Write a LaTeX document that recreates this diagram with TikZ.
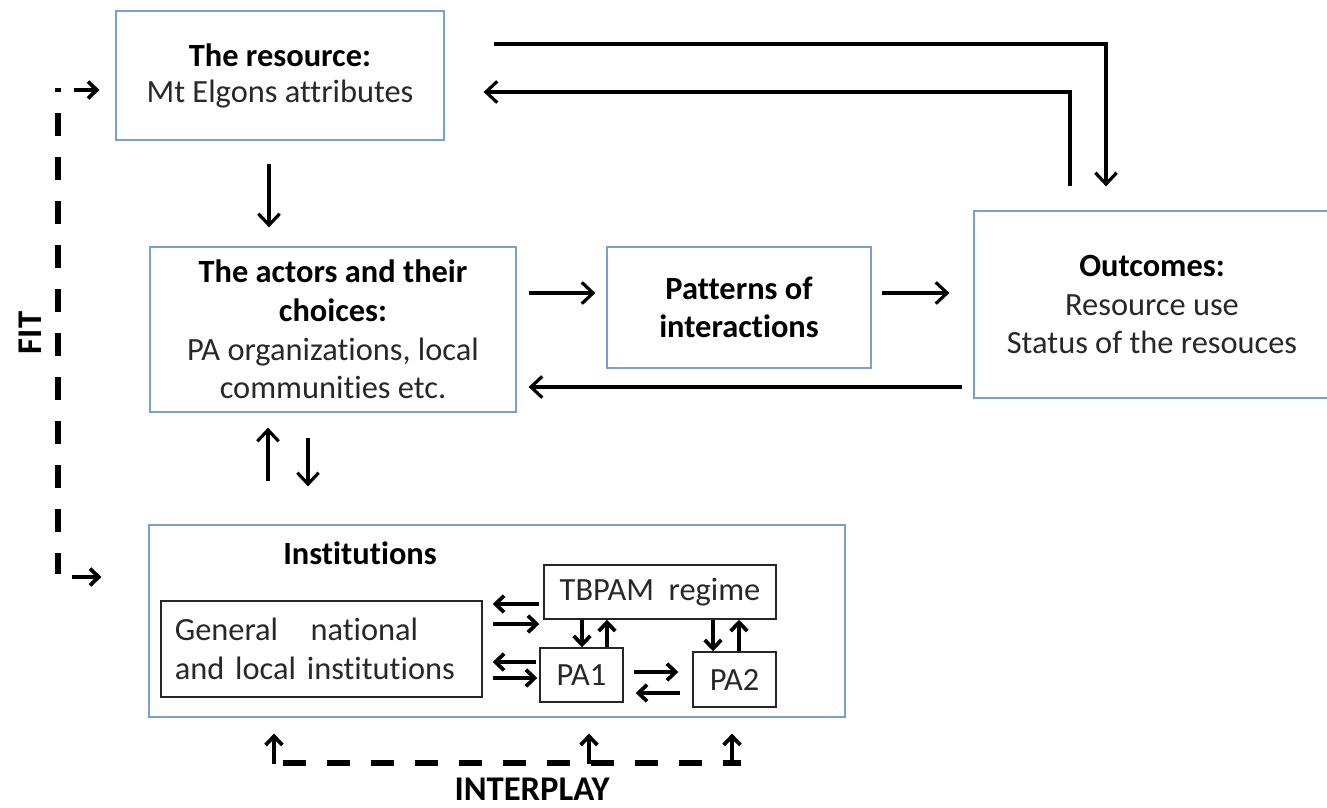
\documentclass[tikz,border=0pt]{standalone}
\usepackage{fontspec}
\setmainfont{Carlito}[RawFeature={-liga;-clig;-calt;-rlig;-dlig}]
\usetikzlibrary{arrows.meta,calc}
\definecolor{boxblue}{RGB}{120,160,215}
\definecolor{txt}{RGB}{40,40,40}
\begin{document}
\begin{tikzpicture}[x=0.75pt,y=-0.75pt,
  mainbox/.style={draw=boxblue, line width=0.9pt, fill=white, align=center, inner sep=0pt, text=txt, font=\fontsize{24.3}{29}\selectfont},
  subbox/.style={draw=black!85, line width=1.1pt, align=center, inner sep=0pt, text=txt, font=\fontsize{24.3}{29}\selectfont},
  arr/.style={line width=2.4pt, -{Straight Barb[length=8.5pt,width=16pt]}},
  sarr/.style={line width=2.8pt, -{Straight Barb[length=6.5pt,width=12.5pt]}},
  dsh/.style={line width=3.8pt, dash pattern=on 17pt off 16pt},
  lbl/.style={font=\fontsize{26}{30}\selectfont\bfseries, text=black, inner sep=0pt}]
\useasboundingbox (0,0) rectangle (1327,807);

% main boxes
\node[mainbox, minimum width=246pt, minimum height=96.75pt] (res) at (280,75.5)
  {\textbf{\color{black}The resource:}\\[-2pt]Mt Elgons attributes};
\node[mainbox, minimum width=274.5pt, minimum height=123.75pt] (act) at (333,329.5)
  {\textbf{\color{black}The actors and their}\\\textbf{\color{black}choices:}\\PA organizations, local\\communities etc.};
\node[mainbox, minimum width=198pt, minimum height=90.75pt] (pat) at (739,307.5)
  {\textbf{\color{black}Patterns of}\\\textbf{\color{black}interactions}};
\node[mainbox, minimum width=267pt, minimum height=140.25pt] (out) at (1152,304.5)
  {\textbf{\color{black}Outcomes:}\\Resource use\\Status of the resouces};
\node[mainbox, minimum width=522pt, minimum height=144pt] (inst) at (497,621) {};
\node[font=\fontsize{24.3}{29}\selectfont\bfseries, inner sep=0pt] (insttitle) at (360,553) {Institutions};

% inner boxes
\node[subbox, minimum width=240.75pt, minimum height=72pt, text width=220pt, align=left] (gen) at (321.5,649)
  {General~~~national\\and local institutions};
\node[subbox, minimum width=174pt, minimum height=40.5pt] (tb) at (660,592) {TBPAM~~regime};
\node[subbox, minimum width=62.25pt, minimum height=40.5pt] (pa1) at (581.5,675) {PA1};
\node[subbox, minimum width=62.25pt, minimum height=41.25pt] (pa2) at (734.5,679.5) {PA2};

% main connectors
\draw[arr] ([shift={(-11,23)}]res.south) -- ([shift={(-64,-19)}]act.north);
\draw[arr] ([shift={(12,-36.5)}]act.east) -- ([shift={(-11,-14.5)}]pat.west);
\draw[arr] ([shift={(10,-14.5)}]pat.east) -- ([shift={(-24,-11.5)}]out.west);
\draw[arr] ([shift={(-11,82.5)}]out.west) -- ([shift={(12,57.5)}]act.east);
\draw[arr] ([shift={(49,-31.5)}]res.east) -| ([shift={(-46,-24)}]out.north);
\draw[arr] ([shift={(-82,-24)}]out.north) |- ([shift={(39,16.5)}]res.east);
\draw[arr] ([shift={(-229,-43)}]inst.north) -- ([shift={(-65,15)}]act.south);
\draw[arr] ([shift={(-25,25)}]act.south) -- ([shift={(-189,-38)}]inst.north);

% inner connectors
\draw[sarr] ([shift={(-4,12)}]tb.west) -- ([shift={(10,-45)}]gen.east);
\draw[sarr] ([shift={(10,-25)}]gen.east) -- ([shift={(-4,32)}]tb.west);
\draw[sarr] ([shift={(-3,-13)}]pa1.west) -- ([shift={(10,13)}]gen.east);
\draw[sarr] ([shift={(10,29)}]gen.east) -- ([shift={(-2,3)}]pa1.west);
\draw[sarr] ([shift={(10,-3)}]pa1.east) -- ([shift={(-14,-7.5)}]pa2.west);
\draw[sarr] ([shift={(-12,13.5)}]pa2.west) -- ([shift={(12,18)}]pa1.east);
\draw[sarr] ([shift={(-78,0)}]tb.south) -- ([shift={(0.5,0)}]pa1.north);
\draw[sarr] ([shift={(25.5,0)}]pa1.north) -- ([shift={(-53,0)}]tb.south);
\draw[sarr] ([shift={(53,0)}]tb.south) -- ([shift={(-21.5,0)}]pa2.north);
\draw[sarr] ([shift={(4.5,0)}]pa2.north) -- ([shift={(79,0)}]tb.south);

% FIT
\coordinate (fitA) at (55,90);
\coordinate (fitB) at (61,90);
\coordinate (fitC) at (58,113);
\coordinate (fitD) at (58,574);
\coordinate (fitE) at (74,90);
\coordinate (fitF) at (72,577);
\draw[line width=2.5pt] (fitA) -- (fitB);
\draw[dsh] (fitC) -- (fitD);
\draw[sarr] (fitE) -- ([shift={(-16,14.5)}]res.west);
\draw[sarr] (fitF) -- ([shift={(-47,-44)}]inst.west);
\node[lbl, rotate=90] (fit) at (30,333) {FIT};

% INTERPLAY
\coordinate (ipL) at (283,763);
\coordinate (ipR) at (741,763);
\coordinate (ip1) at (274,764);
\coordinate (ip2) at (589,764);
\coordinate (ip3) at (732,764);
\draw[dsh] (ipL) -- (ipR);
\draw[sarr] (ip1) -- ([shift={(-223,16)}]inst.south);
\draw[sarr] (ip2) -- ([shift={(92,16)}]inst.south);
\draw[sarr] (ip3) -- ([shift={(235,16)}]inst.south);
\node[lbl] (interplay) at (532,789) {INTERPLAY};
\end{tikzpicture}
\end{document}
